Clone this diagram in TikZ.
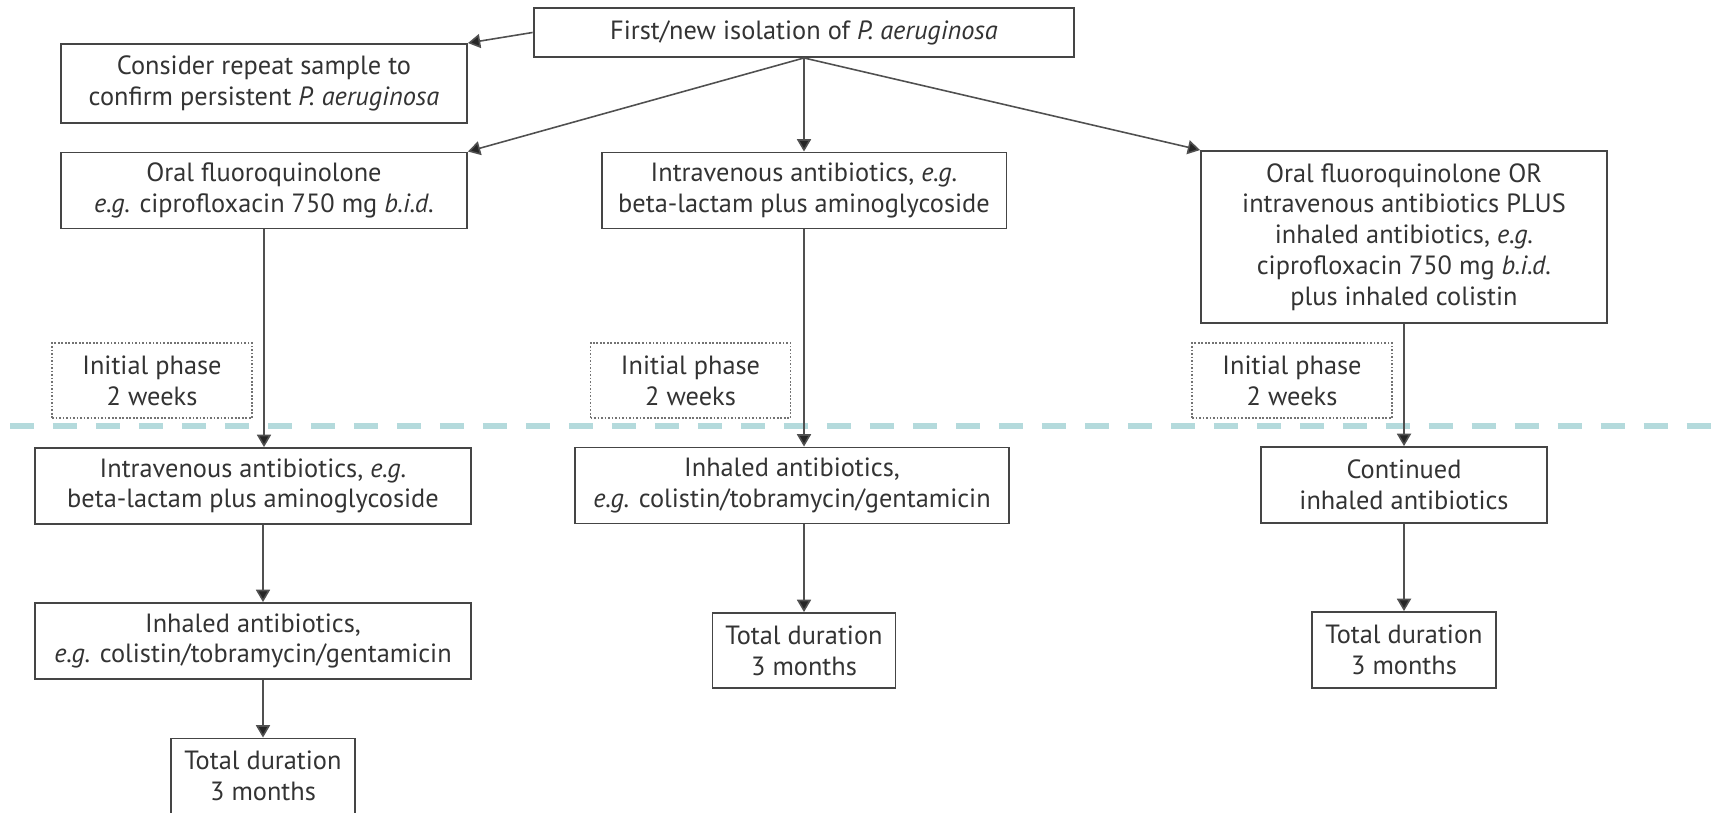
\documentclass[tikz,border=0pt]{standalone}
\usepackage{fontspec}
\setmainfont{PT Sans}
\usetikzlibrary{arrows.meta}
\definecolor{boxline}{HTML}{454545}
\definecolor{linkline}{HTML}{505050}
\definecolor{tipfill}{HTML}{262626}
\definecolor{textgray}{HTML}{333333}
\definecolor{phaseline}{HTML}{B4DADC}

\begin{document}
\begin{tikzpicture}[x=0.02cm,y=-0.02cm,
    font=\fontsize{15}{17.5}\selectfont,
    box/.style={draw=boxline,line width=1.1pt,text=textgray,align=center,
      inner sep=0pt,minimum height=1.52cm},
    phasebox/.style={draw=gray!90!black,densely dotted,line width=1pt,text=textgray,
      align=center,inner sep=0pt,minimum width=4cm,minimum height=1.5cm},
    link/.style={draw=linkline,line width=0.9pt,
      -{Triangle[width=8pt,length=7pt,fill=tipfill]}}
  ]
  \useasboundingbox (0,0) rectangle (1723,813);

  % top row
  \node [box,minimum width=10.82cm,minimum height=0.98cm] (isolation) at (804,32.5)
    {First/new isolation of \textit{P. aeruginosa}};
  \node [box,minimum width=8.12cm,minimum height=1.58cm] (repeat) at (264,83.5)
    {Consider repeat sample to\\confirm persistent \textit{P. aeruginosa}};

  % first treatment
  \node [box,minimum width=8.12cm] (oral) at (264,190.5)
    {Oral fluoroquinolone\\\textit{e.g.} ciprofloxacin 750 mg \textit{b.i.d.}};
  \node [box,minimum width=8.1cm] (iv) at (804,190.5)
    {Intravenous antibiotics, \textit{e.g.}\\beta-lactam plus aminoglycoside};
  \node [box,minimum width=8.12cm,minimum height=3.44cm] (combined) at (1404,237)
    {Oral fluoroquinolone OR\\intravenous antibiotics PLUS\\inhaled antibiotics, \textit{e.g.}\\
     ciprofloxacin 750 mg \textit{b.i.d.}\\plus inhaled colistin};

  % initial phase
  \node [phasebox] (phaseA) at (152,380.5) {Initial phase\\2 weeks};
  \node [phasebox] (phaseB) at (690.5,380.5) {Initial phase\\2 weeks};
  \node [phasebox] (phaseC) at (1292,380.5) {Initial phase\\2 weeks};

  \draw [phaseline,line width=3.4pt,dash pattern=on 0.48cm off 0.38cm]
    (10,426) -- (1723,426);

  % follow-on treatment
  \node [box,minimum width=8.72cm] (ivlater) at (253,486)
    {Intravenous antibiotics, \textit{e.g.}\\beta-lactam plus aminoglycoside};
  \node [box,minimum width=8.72cm] (inhaledA) at (253,641)
    {Inhaled antibiotics,\\\textit{e.g.} colistin/tobramycin/gentamicin};
  \node [box,minimum width=3.68cm,minimum height=1.5cm] (totalA) at (263,776)
    {Total duration\\3 months};

  \node [box,minimum width=8.68cm] (inhaledB) at (792,485.5)
    {Inhaled antibiotics,\\\textit{e.g.} colistin/tobramycin/gentamicin};
  \node [box,minimum width=3.66cm,minimum height=1.5cm] (totalB) at (804,650.5)
    {Total duration\\3 months};

  \node [box,minimum width=5.72cm] (continued) at (1404,485)
    {Continued\\inhaled antibiotics};
  \node [box,minimum width=3.68cm,minimum height=1.52cm] (totalC) at (1404,650)
    {Total duration\\3 months};

  % arrows
  \draw [link] (isolation.west) -- (repeat.north east);
  \draw [link] (isolation.south) -- (oral.north east);
  \draw [link] (isolation.south) -- (iv.north);
  \draw [link] (isolation.south) -- (combined.north west);

  \draw [link] (oral.south) -- (oral.south |- ivlater.north);
  \draw [link] (ivlater.south -| totalA.north) -- (inhaledA.north -| totalA.north);
  \draw [link] (inhaledA.south -| totalA.north) -- (totalA.north);

  \draw [link] (iv.south) -- (iv.south |- inhaledB.north);
  \draw [link] (inhaledB.south -| totalB.north) -- (totalB.north);

  \draw [link] (combined.south) -- (continued.north);
  \draw [link] (continued.south) -- (totalC.north);
\end{tikzpicture}
\end{document}
